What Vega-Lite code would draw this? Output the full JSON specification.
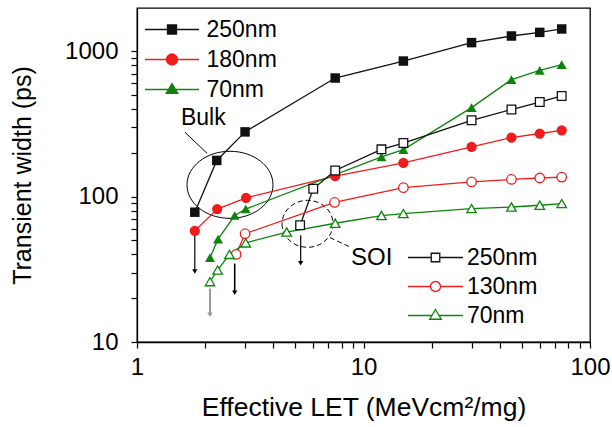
{
  "$schema": "https://vega.github.io/schema/vega-lite/v6.json",
  "width": 453,
  "height": 334,
  "autosize": {"type": "none"},
  "padding": {"left": 137, "top": 8, "right": 22, "bottom": 85},
  "config": {
    "view": {"stroke": "#000", "strokeWidth": 1.3},
    "font": "Liberation Sans",
    "axis": {
      "grid": false,
      "domainColor": "#000",
      "domainWidth": 1.3,
      "tickColor": "#000",
      "tickWidth": 1.2,
      "labelColor": "#000",
      "titleColor": "#000",
      "labelFont": "Liberation Sans",
      "titleFont": "Liberation Sans",
      "titleFontWeight": "normal",
      "labelFlush": false,
      "labelOverlap": false
    }
  },
  "datasets": {
    "bulk": [
      {"s": "250nm", "x": 1.8, "y": 78},
      {"s": "250nm", "x": 2.25, "y": 177},
      {"s": "250nm", "x": 3.0, "y": 278},
      {"s": "250nm", "x": 7.5, "y": 652},
      {"s": "250nm", "x": 15, "y": 853},
      {"s": "250nm", "x": 30, "y": 1142},
      {"s": "250nm", "x": 45, "y": 1268},
      {"s": "250nm", "x": 60, "y": 1343},
      {"s": "250nm", "x": 75, "y": 1417},
      {"s": "180nm", "x": 1.8, "y": 58},
      {"s": "180nm", "x": 2.26, "y": 82},
      {"s": "180nm", "x": 3.03, "y": 98},
      {"s": "180nm", "x": 7.5, "y": 138},
      {"s": "180nm", "x": 15, "y": 170},
      {"s": "180nm", "x": 30, "y": 219},
      {"s": "180nm", "x": 45, "y": 254},
      {"s": "180nm", "x": 60, "y": 271},
      {"s": "180nm", "x": 75, "y": 285},
      {"s": "70nm", "x": 2.1, "y": 38},
      {"s": "70nm", "x": 2.28, "y": 51},
      {"s": "70nm", "x": 2.7, "y": 74},
      {"s": "70nm", "x": 3.02, "y": 82},
      {"s": "70nm", "x": 12, "y": 187},
      {"s": "70nm", "x": 15, "y": 210},
      {"s": "70nm", "x": 30, "y": 408},
      {"s": "70nm", "x": 45, "y": 636},
      {"s": "70nm", "x": 60, "y": 736},
      {"s": "70nm", "x": 75, "y": 806}
    ],
    "soi": [
      {"s": "250nm", "x": 5.25, "y": 63.4},
      {"s": "250nm", "x": 6.0, "y": 113},
      {"s": "250nm", "x": 7.5, "y": 151},
      {"s": "250nm", "x": 12, "y": 211},
      {"s": "250nm", "x": 15, "y": 233},
      {"s": "250nm", "x": 30, "y": 334},
      {"s": "250nm", "x": 45, "y": 396},
      {"s": "250nm", "x": 60, "y": 446},
      {"s": "250nm", "x": 75, "y": 491},
      {"s": "130nm", "x": 2.74, "y": 40},
      {"s": "130nm", "x": 3.0, "y": 55.5},
      {"s": "130nm", "x": 7.45, "y": 91},
      {"s": "130nm", "x": 15, "y": 115},
      {"s": "130nm", "x": 30, "y": 126},
      {"s": "130nm", "x": 45, "y": 131},
      {"s": "130nm", "x": 60, "y": 134},
      {"s": "130nm", "x": 75, "y": 136},
      {"s": "70nm", "x": 2.1, "y": 26},
      {"s": "70nm", "x": 2.27, "y": 31.2},
      {"s": "70nm", "x": 2.56, "y": 40},
      {"s": "70nm", "x": 3.02, "y": 48},
      {"s": "70nm", "x": 4.58, "y": 57},
      {"s": "70nm", "x": 7.5, "y": 65.5},
      {"s": "70nm", "x": 12, "y": 74},
      {"s": "70nm", "x": 15, "y": 76.3},
      {"s": "70nm", "x": 30, "y": 82.6},
      {"s": "70nm", "x": 45, "y": 84.7},
      {"s": "70nm", "x": 60, "y": 87.1},
      {"s": "70nm", "x": 75, "y": 89.4}
    ],
    "arrows": [
      {"k": "black", "x": 1.8, "y": 55.6, "y2": 30.5},
      {"k": "bold", "x": 2.7, "y": 34.6, "y2": 21.8},
      {"k": "gray", "x": 2.1, "y": 23.3, "y2": 15.4},
      {"k": "black", "x": 5.28, "y": 54.1, "y2": 34.8}
    ]
  },
  "encoding": {
    "x": {
      "field": "x",
      "type": "quantitative",
      "scale": {"type": "log", "domain": [1, 100], "nice": false},
      "axis": {
        "title": "Effective LET (MeVcm²/mg)",
        "titleFontSize": 26.5,
        "titlePadding": 15,
        "labelFontSize": 24,
        "labelPadding": 7,
        "values": [1, 2, 3, 4, 5, 6, 7, 8, 9, 10, 20, 30, 40, 50, 60, 70, 80, 90, 100],
        "tickSize": 6,
        "labelExpr": "datum.value == 1 || datum.value == 10 || datum.value == 100 ? format(datum.value, 'd') : ''",
        "encode": {"ticks": {"update": {"y2": {"signal": "datum.value == 1 || datum.value == 10 || datum.value == 100 ? 6 : 3"}}}}
      }
    },
    "y": {
      "field": "y",
      "type": "quantitative",
      "scale": {"type": "log", "domain": [10, 1975], "nice": false},
      "axis": {
        "title": "Transient width (ps)",
        "titleFontSize": 25,
        "titlePadding": 29,
        "labelFontSize": 24,
        "labelPadding": 13,
        "values": [10, 20, 30, 40, 50, 60, 70, 80, 90, 100, 200, 300, 400, 500, 600, 700, 800, 900, 1000],
        "tickSize": 6,
        "labelExpr": "datum.value == 10 || datum.value == 100 || datum.value == 1000 ? format(datum.value, 'd') : ''",
        "encode": {"ticks": {"update": {"x2": {"signal": "datum.value == 10 || datum.value == 100 || datum.value == 1000 ? -6 : -3"}}}}
      }
    }
  },
  "layer": [
    {
      "data": {"values": [{"x": 2.574, "y": 120.3}]},
      "mark": {"type": "point", "shape": "M-1,0A1,0.78,0,1,0,1,0A1,0.78,0,1,0,-1,0Z", "size": 7396, "filled": false, "stroke": "#000", "strokeWidth": 1, "opacity": 1}
    },
    {
      "data": {"values": [{"x": 5.66, "y": 64.9}]},
      "mark": {"type": "point", "shape": "M-1,0A1,0.92,0,1,0,1,0A1,0.92,0,1,0,-1,0Z", "size": 2601, "filled": false, "stroke": "#000", "strokeWidth": 1, "strokeDash": [5, 3], "opacity": 1}
    },
    {
      "data": {"values": [{"x": 1.63, "y": 276, "x2": 2.04, "y2": 198}]},
      "mark": {"type": "rule", "stroke": "#000", "strokeWidth": 1},
      "encoding": {"x2": {"field": "x2"}, "y2": {"field": "y2"}}
    },
    {
      "data": {"values": [{"x": 7.11, "y": 52.2, "x2": 8.72, "y2": 45.0}]},
      "mark": {"type": "rule", "stroke": "#000", "strokeWidth": 1, "strokeDash": [5, 3]},
      "encoding": {"x2": {"field": "x2"}, "y2": {"field": "y2"}}
    },
    {
      "data": {"values": [{"x": 1.963, "y": 347, "t": "Bulk"}]},
      "mark": {"type": "text", "fontSize": 23, "font": "Liberation Sans", "align": "center", "baseline": "middle", "color": "#000"},
      "encoding": {"text": {"field": "t"}}
    },
    {
      "data": {"name": "arrows"},
      "mark": {"type": "rule"},
      "encoding": {
        "y2": {"field": "y2"},
        "color": {"field": "k", "type": "nominal", "scale": {"domain": ["black", "bold", "gray"], "range": ["#000", "#000", "#999"]}, "legend": null},
        "strokeWidth": {"field": "k", "type": "nominal", "scale": {"domain": ["black", "bold", "gray"], "range": [1.2, 2, 1.2]}, "legend": null}
      }
    },
    {
      "data": {"name": "arrows"},
      "mark": {"type": "point", "shape": "triangle-down", "filled": true, "size": 28, "opacity": 1},
      "encoding": {
        "y": {"field": "y2", "type": "quantitative"},
        "color": {"field": "k", "type": "nominal", "scale": {"domain": ["black", "bold", "gray"], "range": ["#000", "#000", "#999"]}, "legend": null}
      }
    },
    {
      "data": {"name": "bulk"},
      "encoding": {
        "color": {
          "field": "s",
          "type": "nominal",
          "scale": {"domain": ["250nm", "180nm", "70nm"], "range": ["#111111", "#ee1c1c", "#0c840c"]},
          "legend": {
            "orient": "none",
            "legendX": 23.5,
            "legendY": 10,
            "title": null,
            "padding": 0,
            "labelFontSize": 23,
            "labelFont": "Liberation Sans",
            "labelColor": "#000",
            "symbolSize": 100,
            "labelOffset": 23,
            "rowPadding": 6,
            "encode": {
              "symbols": {
                "update": {
                  "shape": {"signal": "datum.value === '250nm' ? 'M-5.4,0H-0.9M0.9,0H5.4M-0.9,-0.9H0.9V0.9H-0.9Z' : datum.value === '180nm' ? 'M-5.4,0H-1.1M1.1,0H5.4M-1.1,0A1.1,1.1,0,1,0,1.1,0A1.1,1.1,0,1,0,-1.1,0Z' : 'M-5.4,0H-0.7M0.7,0H5.4M0,-1.2L1.15,0.75L-1.15,0.75Z'"},
                  "fill": {"signal": "datum.value === '250nm' ? '#111111' : datum.value === '180nm' ? '#ee1c1c' : '#0c840c'"},
                  "stroke": {"signal": "datum.value === '250nm' ? '#111111' : datum.value === '180nm' ? '#ee1c1c' : '#0c840c'"},
                  "strokeWidth": {"value": 1.3},
                  "opacity": {"value": 1}
                }
              }
            }
          }
        }
      },
      "layer": [
        {"mark": {"type": "line", "strokeWidth": 1.3}},
        {
          "transform": [{"filter": "datum.s === '250nm'"}],
          "mark": {"type": "point", "filled": true, "shape": "square", "size": 90, "opacity": 1}
        },
        {
          "transform": [{"filter": "datum.s === '180nm'"}],
          "mark": {"type": "point", "filled": true, "shape": "circle", "size": 105, "opacity": 1}
        },
        {
          "transform": [{"filter": "datum.s === '70nm'"}],
          "mark": {"type": "point", "filled": true, "shape": "triangle-up", "size": 100, "opacity": 1}
        }
      ]
    },
    {
      "data": {"name": "soi"},
      "encoding": {
        "color": {
          "field": "s",
          "type": "nominal",
          "scale": {"domain": ["250nm", "130nm", "70nm"], "range": ["#111111", "#ee1c1c", "#0c840c"]},
          "legend": {
            "orient": "none",
            "legendX": 214,
            "legendY": 238,
            "title": "SOI",
            "titleOrient": "left",
            "titleAnchor": "start",
            "titleFontSize": 24,
            "titleFontWeight": "normal",
            "titleFont": "Liberation Sans",
            "titleColor": "#000",
            "titlePadding": 31,
            "padding": 0,
            "labelFontSize": 23,
            "labelFont": "Liberation Sans",
            "labelColor": "#000",
            "symbolSize": 100,
            "labelOffset": 20,
            "rowPadding": 5,
            "encode": {
              "symbols": {
                "update": {
                  "shape": {"signal": "datum.value === '250nm' ? 'M-5.5,0H-0.85M0.85,0H5.5M-0.85,-0.85H0.85V0.85H-0.85Z' : datum.value === '130nm' ? 'M-5.5,0H-1M1,0H5.5M-1,0A1,1,0,1,0,1,0A1,1,0,1,0,-1,0Z' : 'M-5.5,0H-0.7M0.7,0H5.5M0,-1.2L1.15,0.75L-1.15,0.75Z'"},
                  "fill": {"value": "#ffffff"},
                  "stroke": {"signal": "datum.value === '250nm' ? '#111111' : datum.value === '130nm' ? '#ee1c1c' : '#0c840c'"},
                  "strokeWidth": {"value": 1.3},
                  "opacity": {"value": 1}
                }
              }
            }
          }
        }
      },
      "layer": [
        {"mark": {"type": "line", "strokeWidth": 1.3}},
        {
          "transform": [{"filter": "datum.s === '250nm'"}],
          "mark": {"type": "point", "filled": false, "fill": "#ffffff", "shape": "square", "size": 75, "strokeWidth": 1.3, "opacity": 1}
        },
        {
          "transform": [{"filter": "datum.s === '130nm'"}],
          "mark": {"type": "point", "filled": false, "fill": "#ffffff", "shape": "circle", "size": 90, "strokeWidth": 1.3, "opacity": 1}
        },
        {
          "transform": [{"filter": "datum.s === '70nm'"}],
          "mark": {"type": "point", "filled": false, "fill": "#ffffff", "shape": "triangle-up", "size": 90, "strokeWidth": 1.3, "opacity": 1}
        }
      ]
    }
  ],
  "resolve": {"scale": {"color": "independent", "strokeWidth": "independent"}}
}
